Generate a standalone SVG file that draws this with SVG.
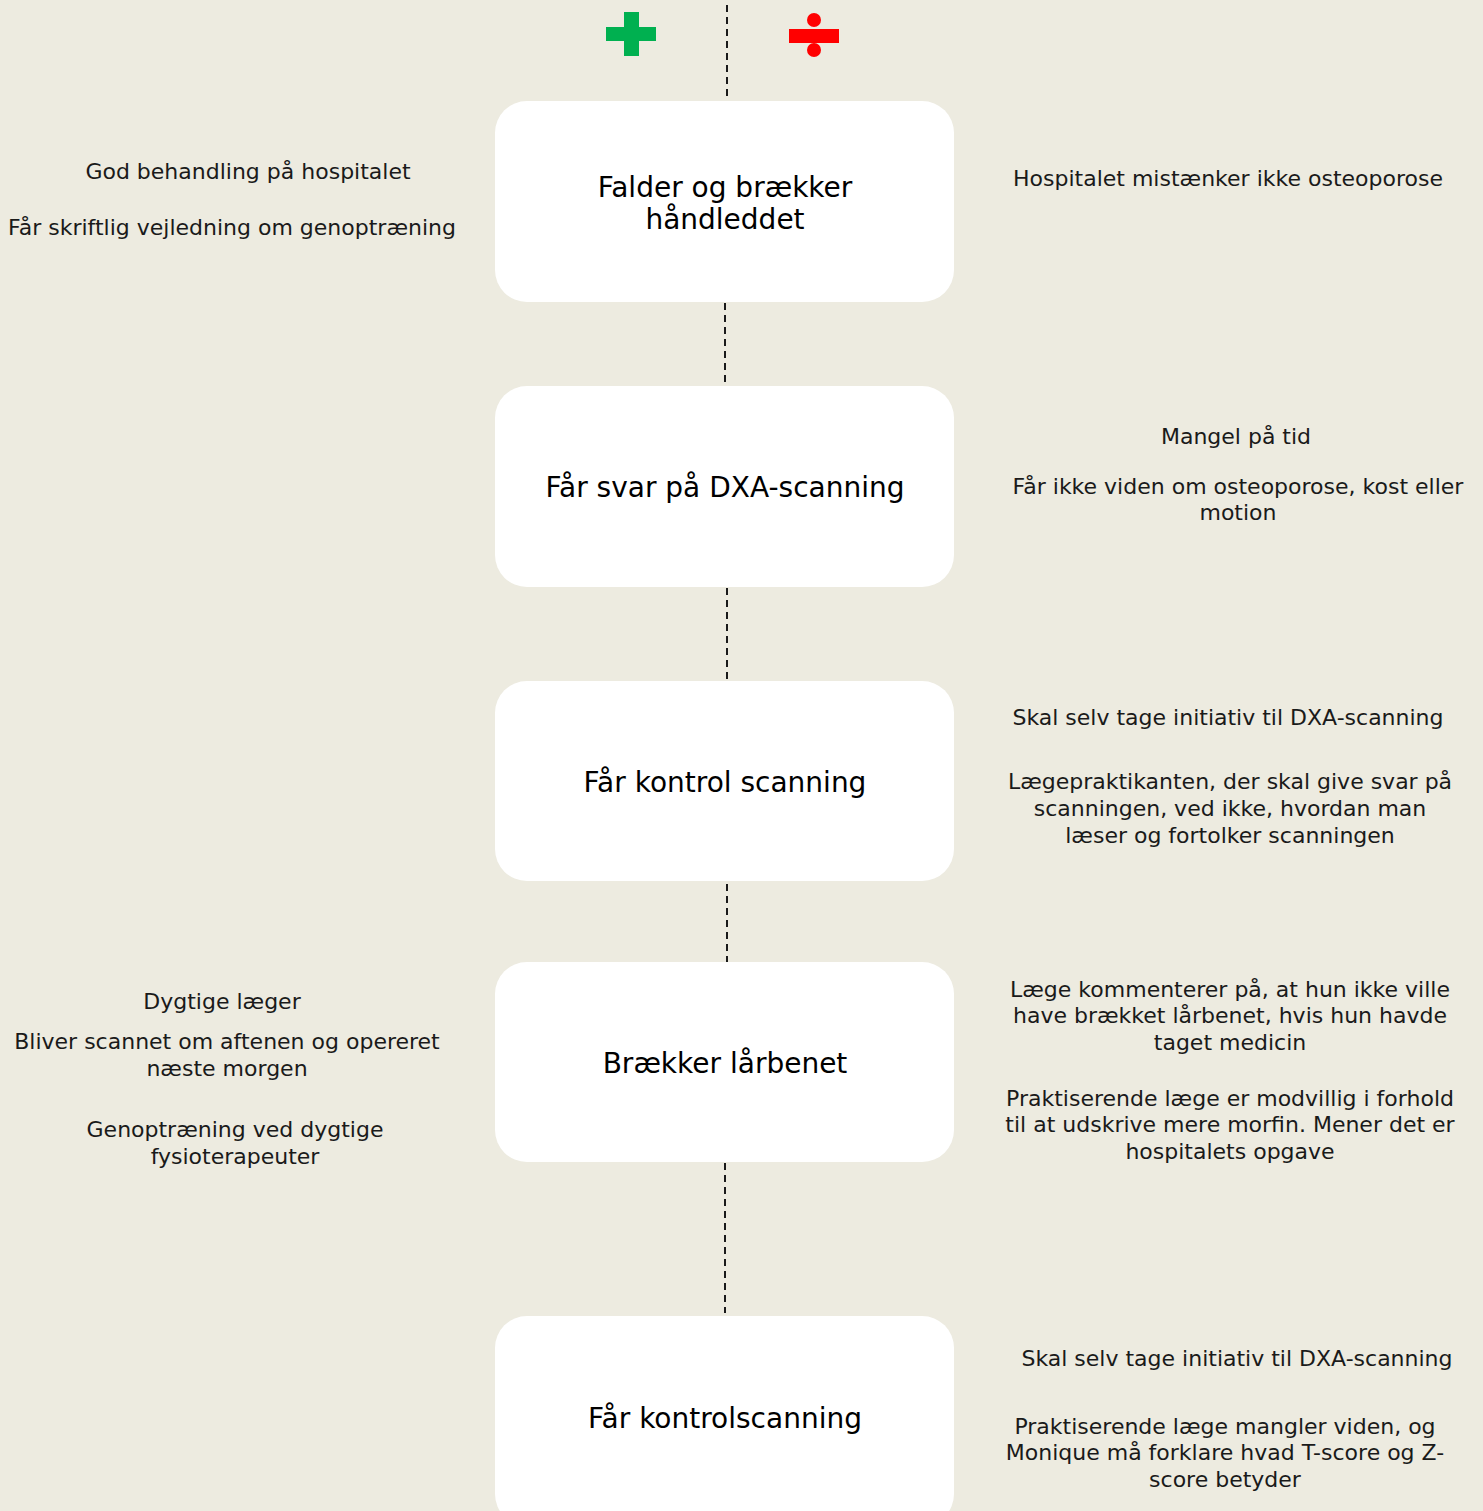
<svg xmlns="http://www.w3.org/2000/svg" width="1483" height="1511" viewBox="0 0 1483 1511">
<style>
.bg{fill:#EDEBE0}
.box{fill:#FFFFFF}
.dash{stroke:#1a1a1a;stroke-width:2;stroke-dasharray:7 5;fill:none}
.t{font-family:"DejaVu Sans","Liberation Sans",sans-serif;font-size:22px;fill:#1a1a1a;text-anchor:middle}
.n{font-family:"DejaVu Sans","Liberation Sans",sans-serif;font-size:28px;fill:#000;text-anchor:middle}
</style>
<rect class="bg" x="0" y="0" width="1483" height="1511"/>
<g id="icons">
<g id="plus" fill="#00B050">
<rect x="606" y="27" width="50" height="14"/>
<rect x="624" y="12" width="15" height="44"/>
</g>
<g id="minus" fill="#FF0000">
<rect x="789" y="29" width="50" height="14"/>
<circle cx="814" cy="20" r="7"/>
<circle cx="814" cy="50" r="7"/>
</g>
</g>
<g id="connectors">
<line class="dash" x1="727" y1="5" x2="727" y2="100"/>
<line class="dash" x1="725" y1="303" x2="725" y2="386"/>
<line class="dash" x1="727" y1="588" x2="727" y2="681"/>
<line class="dash" x1="727" y1="884" x2="727" y2="962"/>
<line class="dash" x1="725" y1="1163" x2="725" y2="1313"/>
</g>
<g id="node1">
<rect class="box" x="495" y="101" width="459" height="201" rx="32"/>
<text class="n" x="725" y="197">Falder og brækker</text>
<text class="n" x="725" y="229">håndleddet</text>
</g>
<g id="node2">
<rect class="box" x="495" y="386" width="459" height="201" rx="32"/>
<text class="n" x="725" y="497">Får svar på DXA-scanning</text>
</g>
<g id="node3">
<rect class="box" x="495" y="681" width="459" height="200" rx="32"/>
<text class="n" x="725" y="792">Får kontrol scanning</text>
</g>
<g id="node4">
<rect class="box" x="495" y="962" width="459" height="200" rx="32"/>
<text class="n" x="725" y="1073">Brækker lårbenet</text>
</g>
<g id="node5">
<rect class="box" x="495" y="1316" width="459" height="210" rx="32"/>
<text class="n" x="725" y="1428">Får kontrolscanning</text>
</g>
<g id="left-notes">
<text class="t" x="248" y="179">God behandling på hospitalet</text>
<text class="t" x="232" y="235">Får skriftlig vejledning om genoptræning</text>
<text class="t" x="222" y="1009">Dygtige læger</text>
<text class="t" x="227" y="1049">Bliver scannet om aftenen og opereret</text>
<text class="t" x="227" y="1076">næste morgen</text>
<text class="t" x="235" y="1137">Genoptræning ved dygtige</text>
<text class="t" x="235" y="1164">fysioterapeuter</text>
</g>
<g id="right-notes">
<text class="t" x="1228" y="186">Hospitalet mistænker ikke osteoporose</text>
<text class="t" x="1236" y="444">Mangel på tid</text>
<text class="t" x="1238" y="494">Får ikke viden om osteoporose, kost eller</text>
<text class="t" x="1238" y="520">motion</text>
<text class="t" x="1228" y="725">Skal selv tage initiativ til DXA-scanning</text>
<text class="t" x="1230" y="789">Lægepraktikanten, der skal give svar på</text>
<text class="t" x="1230" y="816">scanningen, ved ikke, hvordan man</text>
<text class="t" x="1230" y="843">læser og fortolker scanningen</text>
<text class="t" x="1230" y="997">Læge kommenterer på, at hun ikke ville</text>
<text class="t" x="1230" y="1023">have brækket lårbenet, hvis hun havde</text>
<text class="t" x="1230" y="1050">taget medicin</text>
<text class="t" x="1230" y="1106">Praktiserende læge er modvillig i forhold</text>
<text class="t" x="1230" y="1132">til at udskrive mere morfin. Mener det er</text>
<text class="t" x="1230" y="1159">hospitalets opgave</text>
<text class="t" x="1237" y="1366">Skal selv tage initiativ til DXA-scanning</text>
<text class="t" x="1225" y="1434">Praktiserende læge mangler viden, og</text>
<text class="t" x="1225" y="1460">Monique må forklare hvad T-score og Z-</text>
<text class="t" x="1225" y="1487">score betyder</text>
</g>
</svg>
